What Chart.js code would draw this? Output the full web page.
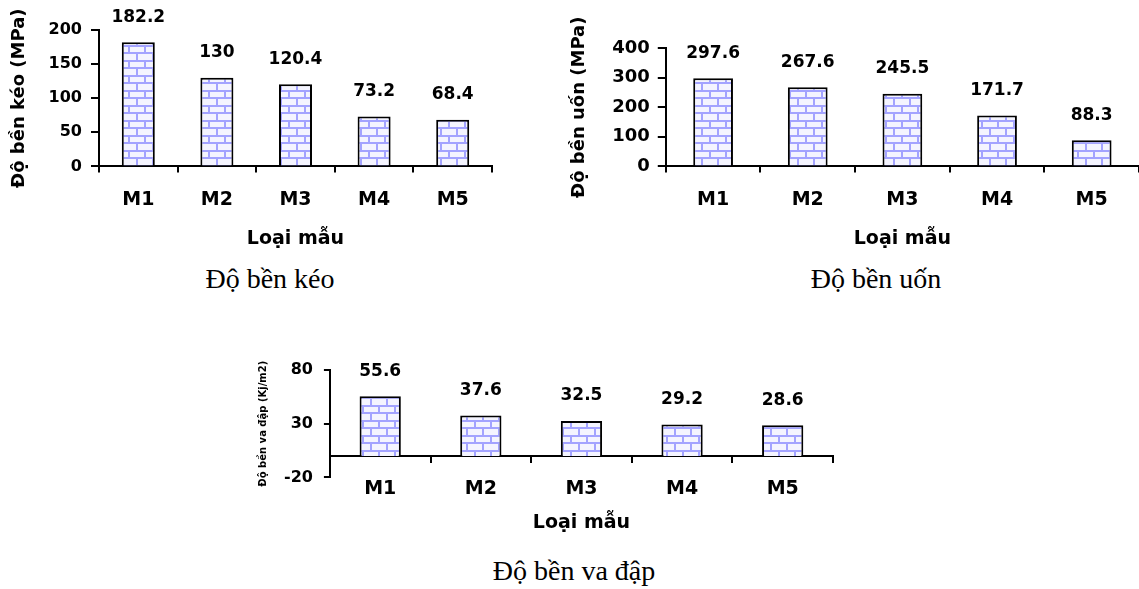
<!DOCTYPE html>
<html><head><meta charset="utf-8">
<script src="https://cdn.jsdelivr.net/npm/chart.js@4.4.1/dist/chart.umd.min.js"></script>
<style>
body{margin:0;background:#fff;width:1139px;height:589px;position:relative;overflow:hidden}
canvas{position:absolute}
.cap{position:absolute;font-family:"Liberation Serif","Times New Roman",serif;font-size:28px;color:#000;white-space:nowrap;transform:translateX(-50%);line-height:32px}
</style></head><body>
<canvas id="c1" width="500" height="254" style="left:0px;top:0px"></canvas>
<canvas id="c2" width="574" height="254" style="left:565px;top:0px"></canvas>
<canvas id="c3" width="590" height="208" style="left:250px;top:330px"></canvas>
<div class="cap" style="left:270px;top:263px">Độ bền kéo</div>
<div class="cap" style="left:876px;top:263px">Độ bền uốn</div>
<div class="cap" style="left:574px;top:555px">Độ bền va đập</div>
<script>
const categories = ['M1', 'M2', 'M3', 'M4', 'M5'];
const tensileValues = [182.2, 130, 120.4, 73.2, 68.4];
const bendingValues = [297.6, 267.6, 245.5, 171.7, 88.3];
const impactValues = [55.6, 37.6, 32.5, 29.2, 28.6];
const xTitle = 'Loại mẫu';
const tensileTitle = 'Độ bền kéo (MPa)';
const bendingTitle = 'Độ bền uốn (MPa)';
const impactTitle = 'Độ bền va đập (Kj/m2)';

const F = '"DejaVu Sans", Verdana, sans-serif';

function brickPattern() {
  const c = document.createElement('canvas');
  c.width = 16; c.height = 15;
  const g = c.getContext('2d');
  g.fillStyle = '#F4F4FF'; g.fillRect(0, 0, 16, 15);
  g.fillStyle = '#A3A3FF';
  g.fillRect(0, 0, 16, 2);
  g.fillRect(0, 7, 16, 2);
  g.fillRect(0, 0, 2, 7);
  g.fillRect(8, 7, 2, 8);
  return g.createPattern(c, 'repeat');
}

const valueLabels = {
  id: 'valueLabels',
  afterDatasetsDraw(chart) {
    const ctx = chart.ctx;
    ctx.save();
    ctx.font = 'bold 17px ' + F;
    ctx.fillStyle = '#000';
    ctx.textAlign = 'center';
    ctx.textBaseline = 'middle';
    const ds = chart.data.datasets[0];
    chart.getDatasetMeta(0).data.forEach((el, i) => {
      ctx.fillText(String(ds.data[i]), el.x, el.y - 25);
    });
    ctx.restore();
  }
};

function yScale(cfg) {
  return {
    min: cfg.min, max: cfg.max,
    ticks: { stepSize: cfg.step, color: '#000', font: { family: F, size: cfg.yTickSize, weight: 'bold' }, padding: cfg.yTickPad },
    grid: { drawOnChartArea: false, drawTicks: true, tickLength: cfg.yTickLen, color: '#000', lineWidth: 2 },
    border: { color: '#000', width: 2 },
    title: { display: true, text: cfg.yTitle, color: '#000', font: { family: F, size: cfg.yTitleSize, weight: 'bold' }, padding: { top: 0, bottom: cfg.yTitlePad } }
  };
}

function xScale(cfg) {
  return {
    position: 'bottom',
    grid: { drawOnChartArea: false, drawTicks: true, tickLength: 6, color: '#000', lineWidth: 2, offset: true },
    border: { color: '#000', width: 2 },
    ticks: { color: '#000', font: { family: F, size: 19, weight: 'bold' }, padding: cfg.xTickPad, maxRotation: 0 },
    title: { display: true, text: xTitle, color: '#000', font: { family: F, size: 19, weight: 'bold' }, padding: { top: cfg.xTitleTop, bottom: 0 } }
  };
}

function makeChart(id, values, cfg, scales) {
  return new Chart(document.getElementById(id), {
    type: 'bar',
    data: {
      labels: categories,
      datasets: [{
        data: values,
        backgroundColor: brickPattern(),
        borderColor: '#000',
        borderWidth: 2,
        categoryPercentage: 1,
        barPercentage: cfg.barPct
      }]
    },
    plugins: [valueLabels],
    options: {
      responsive: false,
      animation: false,
      layout: { padding: cfg.pad },
      plugins: { legend: { display: false }, tooltip: { enabled: false } },
      scales: scales
    }
  });
}

const cfg1 = {
  yTitle: tensileTitle, yTitleSize: 18, yTitlePad: 9, yTickSize: 16, yTickPad: 9, yTickLen: 8,
  min: 0, max: 200, step: 50, xTickPad: 16, xTitleTop: 0, barPct: 0.42,
  pad: { top: 30, left: 9, right: 8, bottom: 4 }
};
makeChart('c1', tensileValues, cfg1, { x: xScale(cfg1), y: yScale(cfg1) });

const cfg2 = {
  yTitle: bendingTitle, yTitleSize: 18, yTitlePad: 13.6, yTickSize: 18, yTickPad: 8, yTickLen: 8,
  min: 0, max: 400, step: 100, xTickPad: 16, xTitleTop: 0, barPct: 0.42,
  pad: { top: 48, left: 4, right: 0, bottom: 4 }
};
makeChart('c2', bendingValues, cfg2, { x: xScale(cfg2), y: yScale(cfg2) });

const cfg3 = {
  yTitle: impactTitle, yTitleSize: 10, yTitlePad: 4, yTickSize: 16, yTickPad: 11, yTickLen: 6,
  min: -20, max: 80, step: 50, xTickPad: 0, xTitleTop: 11, barPct: 0.41,
  pad: { top: 40, left: 7, right: 7, bottom: 4 }
};
// axis line with category tick marks drawn at value 0
const x3 = {
  position: { y: 0 },
  grid: { drawOnChartArea: false, drawTicks: true, tickLength: 6, color: '#000', lineWidth: 2, offset: true },
  border: { color: '#000', width: 2 },
  ticks: { display: false },
  title: { display: false }
};
// labels and title below the chart area
const x3labels = xScale(cfg3);
x3labels.type = 'category';
x3labels.offset = true;
x3labels.grid = { display: false, drawTicks: false, tickLength: 0 };
x3labels.border = { display: false };
makeChart('c3', impactValues, cfg3, { x: x3, x2: x3labels, y: yScale(cfg3) });
</script>
</body></html>
